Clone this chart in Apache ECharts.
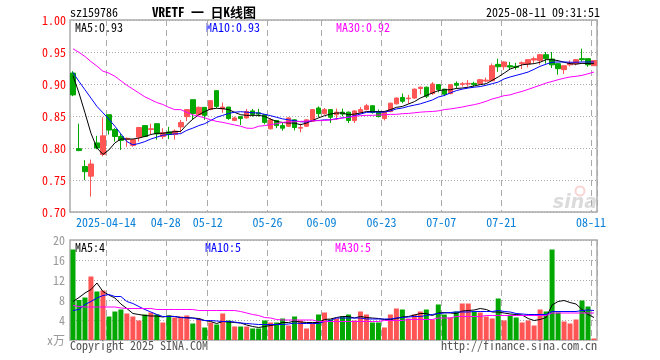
<!DOCTYPE html>
<html><head><meta charset="utf-8">
<script src="https://cdn.jsdelivr.net/npm/echarts@6/dist/echarts.min.js"></script>
<style>html,body{margin:0;padding:0;background:#fff}#c{width:660px;height:360px}</style>
</head><body><div id="c"></div>
<script>
const dates = [
'2025-04-03','2025-04-07','2025-04-08','2025-04-09','2025-04-10','2025-04-11','2025-04-14','2025-04-15','2025-04-16','2025-04-17',
'2025-04-18','2025-04-21','2025-04-22','2025-04-23','2025-04-24','2025-04-25','2025-04-28','2025-04-29','2025-04-30','2025-05-06',
'2025-05-07','2025-05-08','2025-05-09','2025-05-12','2025-05-13','2025-05-14','2025-05-15','2025-05-16','2025-05-19','2025-05-20',
'2025-05-21','2025-05-22','2025-05-23','2025-05-26','2025-05-27','2025-05-28','2025-05-29','2025-05-30','2025-06-03','2025-06-04',
'2025-06-05','2025-06-06','2025-06-09','2025-06-10','2025-06-11','2025-06-12','2025-06-13','2025-06-16','2025-06-17','2025-06-18',
'2025-06-19','2025-06-20','2025-06-23','2025-06-24','2025-06-25','2025-06-26','2025-06-27','2025-06-30','2025-07-01','2025-07-02',
'2025-07-03','2025-07-04','2025-07-07','2025-07-08','2025-07-09','2025-07-10','2025-07-11','2025-07-14','2025-07-15','2025-07-16',
'2025-07-17','2025-07-18','2025-07-21','2025-07-22','2025-07-23','2025-07-24','2025-07-25','2025-07-28','2025-07-29','2025-07-30',
'2025-07-31','2025-08-01','2025-08-04','2025-08-05','2025-08-06','2025-08-07','2025-08-08','2025-08-11'];

const openP = [0.917,0.799,0.771,0.756,0.808,0.790,0.852,0.829,0.818,0.8135,
0.804,0.817,0.835,0.829,0.838,0.818,0.825,0.821,0.833,0.849,
0.8755,0.852,0.8635,0.860,0.8896,0.861,0.864,0.843,0.849,0.847,
0.858,0.855,0.852,0.830,0.843,0.835,0.834,0.844,0.831,0.834,
0.8416,0.8625,0.8536,0.860,0.852,0.856,0.856,0.843,0.856,0.860,
0.866,0.857,0.846,0.857,0.869,0.879,0.877,0.878,0.893,0.895,
0.885,0.899,0.892,0.885,0.901,0.8995,0.900,0.901,0.9005,0.9045,
0.905,0.9307,0.927,0.9286,0.9276,0.9318,0.9312,0.9375,0.9365,0.9458,
0.939,0.9318,0.9224,0.930,0.9318,0.9396,0.9396,0.9286];
const closeP = [0.883,0.796,0.763,0.775,0.800,0.819,0.828,0.818,0.812,0.815,
0.813,0.832,0.818,0.830,0.822,0.824,0.821,0.8265,0.840,0.860,
0.854,0.8635,0.851,0.874,0.865,0.864,0.846,0.847,0.846,0.857,
0.8525,0.853,0.840,0.844,0.835,0.831,0.847,0.832,0.832,0.844,
0.860,0.8536,0.860,0.848,0.856,0.853,0.843,0.858,0.860,0.866,
0.8557,0.849,0.857,0.870,0.878,0.873,0.878,0.892,0.895,0.881,
0.900,0.8915,0.884,0.899,0.898,0.9005,0.901,0.899,0.9067,0.906,
0.9286,0.927,0.9344,0.9266,0.926,0.9333,0.938,0.9396,0.9458,0.9396,
0.930,0.924,0.9286,0.9328,0.938,0.938,0.930,0.9365];
const lowP = [0.881,0.795,0.750,0.724,0.798,0.787,0.821,0.810,0.797,0.802,
0.802,0.810,0.817,0.821,0.813,0.814,0.814,0.813,0.824,0.842,
0.844,0.851,0.844,0.859,0.8625,0.855,0.844,0.842,0.836,0.846,
0.849,0.849,0.837,0.829,0.831,0.827,0.833,0.8276,0.8245,0.833,
0.841,0.848,0.852,0.839,0.844,0.8495,0.839,0.839,0.8536,0.859,
0.8536,0.848,0.843,0.856,0.868,0.870,0.869,0.877,0.884,0.878,
0.883,0.887,0.881,0.884,0.893,0.896,0.896,0.896,0.899,0.9025,
0.905,0.919,0.922,0.922,0.9224,0.9234,0.926,0.933,0.930,0.9318,
0.925,0.9146,0.9156,0.9276,0.929,0.9354,0.927,0.9286];
const highP = [0.920,0.838,0.781,0.782,0.819,0.848,0.852,0.831,0.822,0.8165,
0.814,0.833,0.835,0.838,0.838,0.831,0.833,0.829,0.844,0.861,
0.8755,0.865,0.8635,0.874,0.8896,0.871,0.864,0.849,0.849,0.861,
0.861,0.861,0.852,0.847,0.843,0.839,0.848,0.845,0.838,0.845,
0.861,0.865,0.8625,0.860,0.8615,0.8615,0.857,0.859,0.864,0.869,
0.867,0.860,0.858,0.871,0.879,0.885,0.883,0.893,0.896,0.896,
0.903,0.900,0.892,0.900,0.904,0.903,0.906,0.9035,0.908,0.910,
0.932,0.9396,0.9354,0.9344,0.933,0.9354,0.938,0.9427,0.947,0.950,
0.950,0.9318,0.9286,0.937,0.939,0.955,0.9396,0.9375];

const ma5 = [0.913,0.886,0.855,0.823,0.800,0.790,0.797,0.808,0.814,0.814,
0.814,0.8155,0.818,0.821,0.823,0.823,0.8245,0.8255,0.826,0.8364,
0.845,0.852,0.857,0.861,0.862,0.8615,0.860,0.8557,0.852,0.851,
0.851,0.851,0.8495,0.845,0.8416,0.8398,0.839,0.839,0.8364,0.839,
0.843,0.847,0.8505,0.853,0.8547,0.8547,0.852,0.853,0.8547,0.857,
0.857,0.857,0.857,0.860,0.8635,0.865,0.8687,0.8724,0.878,0.882,
0.886,0.8896,0.891,0.891,0.893,0.8937,0.895,0.897,0.899,0.9005,
0.9057,0.911,0.917,0.9234,0.9266,0.930,0.931,0.9318,0.934,0.938,
0.938,0.9365,0.934,0.9318,0.931,0.9323,0.9318,0.9318];
const ma10 = [0.918,0.904,0.891,0.878,0.865,0.855,0.845,0.834,0.822,0.810,
0.805,0.807,0.810,0.814,0.817,0.820,0.821,0.822,0.8224,0.8276,
0.831,0.835,0.838,0.843,0.848,0.851,0.854,0.856,0.8567,0.856,
0.855,0.8547,0.8526,0.8505,0.848,0.8455,0.844,0.8427,0.841,0.8406,
0.8427,0.843,0.844,0.844,0.8458,0.847,0.8484,0.8505,0.853,0.8557,
0.856,0.856,0.856,0.858,0.861,0.8625,0.865,0.867,0.869,0.872,
0.875,0.8797,0.882,0.886,0.8896,0.892,0.8937,0.895,0.896,0.898,
0.9005,0.903,0.908,0.911,0.9135,0.916,0.9187,0.923,0.9276,0.931,
0.934,0.9344,0.9344,0.934,0.934,0.9344,0.9344,0.9344];
const ma30 = [0.955,0.9495,0.943,0.935,0.928,0.920,0.917,0.912,0.905,0.898,
0.892,0.886,0.880,0.8755,0.871,0.868,0.8635,0.860,0.860,0.8557,
0.852,0.8495,0.847,0.844,0.8416,0.840,0.838,0.836,0.834,0.831,
0.8307,0.834,0.835,0.8365,0.838,0.840,0.841,0.841,0.8416,0.842,
0.8427,0.8427,0.843,0.844,0.845,0.847,0.848,0.8495,0.8505,0.851,
0.851,0.8515,0.852,0.8525,0.8526,0.8536,0.854,0.855,0.856,0.8567,
0.857,0.858,0.860,0.861,0.8625,0.864,0.866,0.8677,0.870,0.873,
0.8766,0.879,0.8818,0.883,0.886,0.8885,0.8916,0.8948,0.898,0.9015,
0.904,0.9067,0.909,0.911,0.912,0.9135,0.916,0.9187];

const volume = [18.1,8.0,8.5,12.7,9.7,9.9,4.7,5.7,6.1,5.3,
4.7,3.9,5.1,5.5,5.1,3.5,4.9,4.5,4.7,4.9,
3.3,4.3,2.5,3.5,3.1,5.3,3.9,2.7,2.7,2.7,
2.3,2.3,3.9,3.5,3.5,4.3,2.9,4.7,3.9,2.3,
3.5,5.1,5.5,4.1,4.3,4.7,5.1,3.9,5.7,5.1,
3.5,3.5,2.5,5.1,6.3,6.1,4.3,5.1,5.7,6.1,
4.1,7.1,5.1,4.5,5.7,7.3,7.3,5.7,5.5,4.7,
4.3,8.3,3.9,4.9,4.5,3.5,3.9,2.9,6.1,5.7,
18.1,5.5,3.7,3.3,4.1,7.9,6.7,0.3];
const volMa5 = [7.7,8.5,9.4,10.1,11.4,9.7,9.0,8.4,7.2,6.3,
5.3,5.1,4.9,4.8,4.8,4.6,4.8,4.7,4.5,4.5,
4.4,4.3,3.9,3.7,3.3,3.7,3.6,3.5,3.4,3.0,
2.7,2.5,2.7,2.9,3.1,3.5,3.5,3.8,3.6,3.5,
3.5,3.5,4.1,4.2,4.5,4.7,4.7,4.4,4.7,4.5,
4.4,4.3,4.1,4.1,4.3,4.6,4.7,5.0,5.3,5.3,
4.9,5.4,5.5,5.4,5.3,5.8,5.9,6.0,6.3,6.1,
5.6,5.6,5.4,5.2,5.1,5.0,4.3,3.9,4.1,4.5,
7.0,7.7,7.9,7.5,7.2,6.1,5.1,4.5];
const volMa10 = [5.9,6.1,7.1,7.7,8.4,8.9,9.1,8.7,8.7,7.7,
7.3,6.7,6.1,5.6,5.1,4.7,4.7,4.7,4.5,4.4,
4.4,4.1,3.9,3.9,3.8,3.7,3.7,3.6,3.4,3.3,
3.2,3.1,3.1,3.1,3.1,3.1,3.2,3.4,3.3,3.3,
3.3,3.3,3.7,3.9,4.4,4.4,4.4,4.4,4.4,4.2,
4.2,4.2,4.2,4.2,4.4,4.5,4.6,4.7,4.7,4.9,
5.1,5.3,5.4,5.5,5.6,5.6,5.6,5.7,5.7,5.7,
5.7,5.9,5.7,5.6,5.3,5.2,5.1,5.1,5.1,5.1,
5.7,5.7,5.7,5.7,5.7,5.9,6.0,5.9];
const volMa30 = [6.9,6.7,6.6,6.6,6.6,6.6,6.6,6.6,6.4,6.3,
6.3,6.3,6.3,6.3,6.1,6.1,6.1,6.1,6.1,6.1,
6.1,5.9,5.9,5.9,5.9,5.9,5.9,5.9,5.7,5.4,
5.1,4.9,4.5,4.4,4.1,4.0,4.0,4.0,4.0,4.0,
4.0,3.7,3.7,3.7,3.7,3.7,3.7,3.7,3.7,3.7,
3.7,3.7,3.9,3.9,3.9,3.9,4.1,4.1,4.1,4.1,
4.1,4.4,4.4,4.4,4.7,4.7,4.7,4.7,4.7,4.9,
4.9,4.9,4.9,4.9,4.9,4.9,4.9,4.9,4.9,4.9,
5.4,5.4,5.4,5.4,5.4,5.4,5.4,5.4];

const tickIdx = [6,16,23,33,42,52,62,72,87];
const headerLabels = ['MA5:0.93','MA10:0.93','MA30:0.92'];
const volLabels = ['MA5:4','MA10:5','MA30:5'];

const UP = '#ff5555', DOWN = '#00a800';
const FONT = '"Noto Sans Mono CJK SC","DejaVu Sans Mono",monospace';
const isTick = (i) => tickIdx.indexOf(i) >= 0;

const chart = echarts.init(document.getElementById('c'), null, {renderer:'canvas'});
const candles = dates.map((d,i)=>[openP[i], closeP[i], lowP[i], highP[i]]);
const volData = volume.map((v,i)=>({value:v, itemStyle:{color: closeP[i] >= openP[i] ? UP : DOWN}}));

const xBase = {
  type:'category', data: dates, boundaryGap:true,
  axisLine:{show:false}, axisTick:{show:false},
  splitLine:{show:true, interval:(i)=>isTick(i), lineStyle:{color:'#aaa', width:1, type:[6,4]}}
};
const lineS = (name, data, color, xi, yi) => ({
  name, type:'line', data, xAxisIndex:xi, yAxisIndex:yi, symbol:'none',
  lineStyle:{color, width:1}, itemStyle:{color}, z:5, silent:true
});
const txt = (x, y, text, color, align, size, weight) => ({
  type:'text', style:{x, y, text, fill:color, font:(weight||'normal')+' '+(size||12)+'px '+FONT, textAlign:align||'left', textVerticalAlign:'middle'}
});

chart.setOption({
  animation:false,
  backgroundColor:'#fff',
  grid:[
    {left:70, right:63, top:20, height:192, show:true, borderColor:'#aaa', borderWidth:1.5, backgroundColor:'transparent'},
    {left:70, right:63, top:240, height:100, show:true, borderColor:'#aaa', borderWidth:1.5, backgroundColor:'transparent'}
  ],
  xAxis:[
    Object.assign({}, xBase, {gridIndex:0,
      axisLabel:{show:true, interval:(i)=>isTick(i), color:'#0a80d8', fontSize:12, fontFamily:FONT, margin:4,
        padding:[0,6,0,0],
        formatter:(v,i)=> i===tickIdx[0] ? v : v.slice(5)}}),
    Object.assign({}, xBase, {gridIndex:1, axisLabel:{show:false}})
  ],
  yAxis:[
    {gridIndex:0, type:'value', min:0.70, max:1.00, interval:0.05, scale:true,
     axisLine:{show:false}, axisTick:{show:false},
     axisLabel:{color:'#ff0000', fontSize:12, fontFamily:FONT, margin:4, formatter:(v)=>v.toFixed(2)},
     splitLine:{show:true, lineStyle:{color:'#aaa', width:1, type:[1,2]}}},
    {gridIndex:1, type:'value', min:0, max:20, interval:4,
     axisLine:{show:false}, axisTick:{show:false},
     axisLabel:{color:'#999', fontSize:12, fontFamily:FONT, margin:5, formatter:(v)=> v===0 ? 'x万' : String(v)},
     splitLine:{show:true, lineStyle:{color:'#aaa', width:1, type:[1,2]}}}
  ],
  series:[
    {type:'candlestick', data:candles, xAxisIndex:0, yAxisIndex:0, barWidth:5,
     itemStyle:{color:UP, color0:DOWN, borderColor:UP, borderColor0:DOWN, borderWidth:1}, z:3},
    lineS('MA5', ma5, '#000000', 0, 0),
    lineS('MA10', ma10, '#0000ff', 0, 0),
    lineS('MA30', ma30, '#ff00ff', 0, 0),
    {type:'bar', data:volData, xAxisIndex:1, yAxisIndex:1, barWidth:5, z:2},
    lineS('VMA5', volMa5, '#000000', 1, 1),
    lineS('VMA10', volMa10, '#0000ff', 1, 1),
    lineS('VMA30', volMa30, '#ff00ff', 1, 1)
  ],
  graphic:[
    txt(70, 12, 'sz159786', '#000'),
    txt(152, 12, 'VRETF 一 日K线图', '#000', 'left', 13, 'bold'),
    txt(600, 12, '2025-08-11 09:31:51', '#000', 'right'),
    txt(75, 27, headerLabels[0], '#000'),
    txt(206, 27, headerLabels[1], '#0000ff'),
    txt(336, 27, headerLabels[2], '#ff00ff'),
    txt(75, 247, volLabels[0], '#000'),
    txt(205, 247, volLabels[1], '#0000ff'),
    txt(335, 247, volLabels[2], '#ff00ff'),
    txt(70, 345, 'Copyright 2025 SINA.COM', '#555'),
    txt(597, 345, 'http://finance.sina.com.cn', '#555', 'right'),
    {type:'circle', shape:{cx:580, cy:191, r:4.5}, style:{fill:'none', stroke:'rgba(240,160,160,0.45)', lineWidth:2}},
    {type:'text', style:{x:597, y:203, text:'sina', fill:'rgba(175,175,175,0.45)', font:'italic bold 19px "DejaVu Sans"', textAlign:'right', textVerticalAlign:'middle'}}
  ]
});
</script></body></html>
